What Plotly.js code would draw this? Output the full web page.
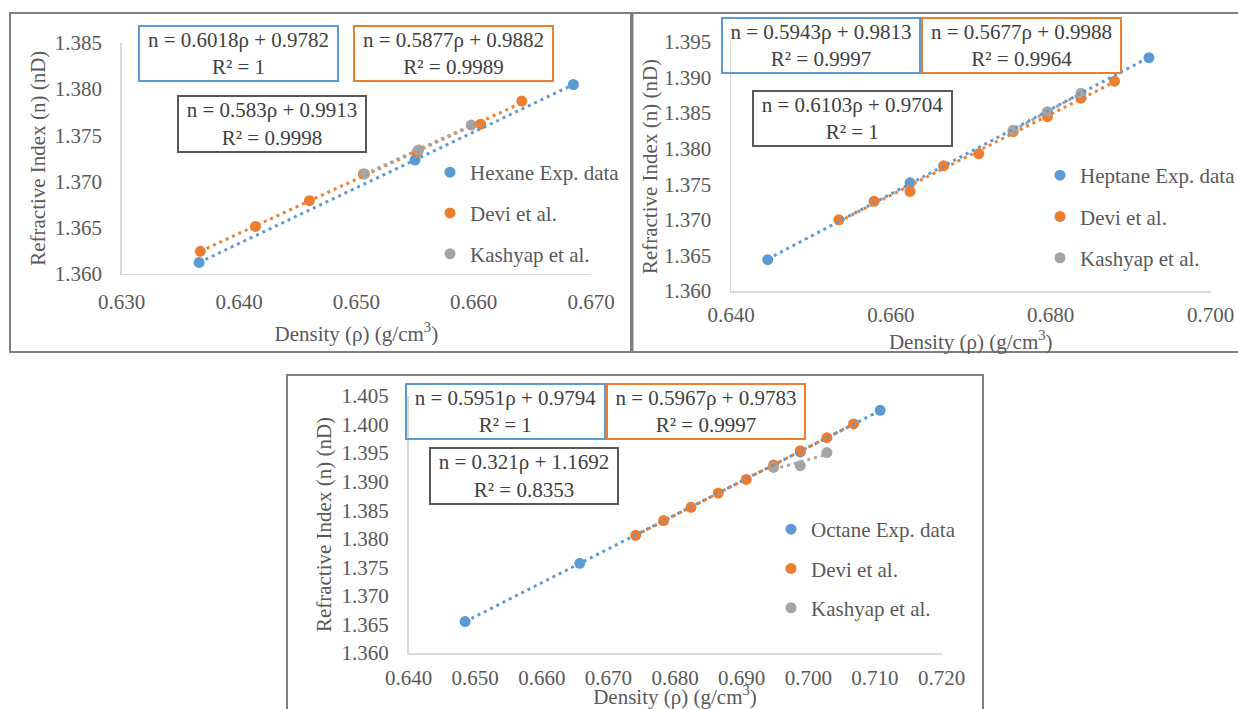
<!DOCTYPE html>
<html>
<head>
<meta charset="utf-8">
<script src="https://cdn.plot.ly/plotly-3.0.1.min.js"></script>
<style>
html,body{margin:0;padding:0;background:#fff;overflow:hidden;width:1238px;height:709px;}
#chart{width:1238px;height:709px;overflow:hidden;}
</style>
</head>
<body>
<div id="chart"></div>
<script>
// ---------- Hexane panel ----------
const hexExpX   = [0.6366, 0.6550, 0.6685];
const hexExpY   = [1.3612, 1.3723, 1.3805];
const hexDeviX  = [0.6367, 0.6414, 0.6460, 0.6506, 0.6552, 0.6606, 0.6641];
const hexDeviY  = [1.3624, 1.3651, 1.3679, 1.3708, 1.3732, 1.3762, 1.3787];
const hexKashX  = [0.6507, 0.6553, 0.6598];
const hexKashY  = [1.3708, 1.3734, 1.3761];
const hexNames  = ["Hexane Exp. data", "Devi et al.", "Kashyap et al."];
const hexEq     = ["n = 0.6018ρ + 0.9782<br>R² = 1", "n = 0.5877ρ + 0.9882<br>R² = 0.9989", "n = 0.583ρ + 0.9913<br>R² = 0.9998"];

// ---------- Heptane panel ----------
const hepExpX   = [0.6446, 0.6624, 0.6923];
const hepExpY   = [1.3644, 1.3752, 1.3928];
const hepDeviX  = [0.6535, 0.6579, 0.6624, 0.6666, 0.6710, 0.6753, 0.6796, 0.6838, 0.6880];
const hepDeviY  = [1.3700, 1.3726, 1.3740, 1.3776, 1.3793, 1.3824, 1.3845, 1.3871, 1.3895];
const hepKashX  = [0.6753, 0.6796, 0.6838];
const hepKashY  = [1.3826, 1.3852, 1.3878];
const hepNames  = ["Heptane Exp. data", "Devi et al.", "Kashyap et al."];
const hepEq     = ["n = 0.5943ρ + 0.9813<br>R² = 0.9997", "n = 0.5677ρ + 0.9988<br>R² = 0.9964", "n = 0.6103ρ + 0.9704<br>R² = 1"];

// ---------- Octane panel ----------
const octExpX   = [0.6485, 0.6657, 0.6988, 0.7108];
const octExpY   = [1.3655, 1.3757, 1.3952, 1.4025];
const octDeviX  = [0.6741, 0.6783, 0.6824, 0.6865, 0.6907, 0.6948, 0.6988, 0.7028, 0.7068];
const octDeviY  = [1.3806, 1.3832, 1.3855, 1.3880, 1.3904, 1.3929, 1.3954, 1.3977, 1.4001];
const octKashX  = [0.6948, 0.6988, 0.7028];
const octKashY  = [1.3925, 1.3928, 1.3951];
const octNames  = ["Octane Exp. data", "Devi et al.", "Kashyap et al."];
const octEq     = ["n = 0.5951ρ + 0.9794<br>R² = 1", "n = 0.5967ρ + 0.9783<br>R² = 0.9997", "n = 0.321ρ + 1.1692<br>R² = 0.8353"];

// axis ranges / ticks
const hexXRange = [0.630, 0.670], hexYRange = [1.360, 1.385], hexXTick = 0.010;
const hepXRange = [0.640, 0.700], hepYRange = [1.360, 1.395], hepXTick = 0.020;
const octXRange = [0.640, 0.720], octYRange = [1.360, 1.405], octXTick = 0.010;
const yTick = 0.005;

const xTitle = "Density (ρ) (g/cm<sup>3</sup>)";
const yTitle = "Refractive Index (n) (nD)";

// ---------- styling ----------
const W = 1238, H = 709;
const colors = ["#5B9BD5", "#ED7D31", "#A5A5A5"];
const boxColors = ["#5B9BD5", "#ED7D31", "#595959"];
const FONT = "Liberation Serif, Times New Roman, serif";
const textCol = "#595959";
const FS = 21;

function fit(xs, ys) {
  const n = xs.length;
  const mx = xs.reduce((a, b) => a + b, 0) / n;
  const my = ys.reduce((a, b) => a + b, 0) / n;
  let sxy = 0, sxx = 0;
  for (let i = 0; i < n; i++) { sxy += (xs[i] - mx) * (ys[i] - my); sxx += (xs[i] - mx) ** 2; }
  const b = sxy / sxx;
  return { b: b, a: my - b * mx };
}

const traces = [];
function addPanel(series, names, xa, ya, legendId, grpPrefix) {
  series.forEach((s, i) => {
    traces.push({
      x: s[0], y: s[1], type: "scatter", mode: "markers", name: names[i],
      xaxis: xa, yaxis: ya, legend: legendId, legendgroup: grpPrefix + i,
      marker: { color: colors[i], size: 11, line: { width: 0 } },
      hoverinfo: "x+y"
    });
  });
  series.forEach((s, i) => {
    const f = fit(s[0], s[1]);
    const x0 = Math.min(...s[0]), x1 = Math.max(...s[0]);
    traces.push({
      x: [x0, x1], y: [f.a + f.b * x0, f.a + f.b * x1], type: "scatter", mode: "lines",
      xaxis: xa, yaxis: ya, showlegend: false, legendgroup: grpPrefix + i, hoverinfo: "skip",
      line: { color: colors[i], width: 3, dash: "3px,4px" }
    });
  });
}
addPanel([[hexExpX, hexExpY], [hexDeviX, hexDeviY], [hexKashX, hexKashY]], hexNames, "x", "y", "legend", "h");
addPanel([[hepExpX, hepExpY], [hepDeviX, hepDeviY], [hepKashX, hepKashY]], hepNames, "x2", "y2", "legend2", "p");
addPanel([[octExpX, octExpY], [octDeviX, octDeviY], [octKashX, octKashY]], octNames, "x3", "y3", "legend3", "o");

const px = v => v / W;
const py = v => 1 - v / H;

function xAxis(range, dtick, dom, anchor, lblOff, titleOff) {
  return {
    domain: dom, range: range, anchor: anchor, dtick: dtick, tick0: range[0], tickformat: ".3f",
    showgrid: false, zeroline: false, showline: true, linecolor: "#D9D9D9", linewidth: 1.5,
    ticks: "", ticklabelstandoff: lblOff,
    tickfont: { family: FONT, size: FS, color: textCol },
    title: { text: xTitle, standoff: titleOff, font: { family: FONT, size: FS, color: textCol } },
    automargin: false, fixedrange: true
  };
}
function yAxis(range, dom, anchor, lblOff, titleOff) {
  return {
    domain: dom, range: range, anchor: anchor, dtick: yTick, tick0: range[0], tickformat: ".3f",
    showgrid: false, zeroline: false, showline: true, linecolor: "#D9D9D9", linewidth: 1.5,
    ticks: "", ticklabelstandoff: lblOff,
    tickfont: { family: FONT, size: FS, color: textCol },
    title: { text: yTitle, standoff: titleOff, font: { family: FONT, size: FS, color: textCol } },
    automargin: false, fixedrange: true
  };
}

function legendAt(xpx, ypx, gap) {
  return {
    x: px(xpx), y: py(ypx), xanchor: "left", yanchor: "top", xref: "paper", yref: "paper",
    bgcolor: "rgba(0,0,0,0)", borderwidth: 0, tracegroupgap: gap, itemclick: false, itemdoubleclick: false,
    font: { family: FONT, size: FS, color: textCol }
  };
}

function box(text, left, top, w, h, i) {
  return {
    xref: "paper", yref: "paper", x: px(left), y: py(top), xanchor: "left", yanchor: "top",
    text: text, showarrow: false, align: "center", valign: "middle",
    width: w - 4, height: h - 4, borderpad: 0, borderwidth: 2, bordercolor: boxColors[i],
    bgcolor: "rgba(255,255,255,0)",
    font: { family: FONT, size: FS, color: "#404040" }
  };
}

function frame(x0, y0, x1, y1) {
  return { type: "rect", xref: "paper", yref: "paper", x0: px(x0), x1: px(x1), y0: py(y1), y1: py(y0),
           line: { color: "#7F7F7F", width: 2 }, fillcolor: "rgba(0,0,0,0)", layer: "below" };
}

const layout = {
  width: W, height: H, margin: { l: 0, r: 0, t: 0, b: 0, autoexpand: false },
  paper_bgcolor: "#fff", plot_bgcolor: "rgba(0,0,0,0)",
  font: { family: FONT, color: textCol },
  xaxis:  xAxis(hexXRange, hexXTick, [px(121.7), px(591)], "y", 9, 13),
  yaxis:  yAxis(hexYRange, [py(273.5), py(43)], "x", 14, 3),
  xaxis2: xAxis(hepXRange, hepXTick, [px(731), px(1210.5)], "y2", 4, 0),
  yaxis2: yAxis(hepYRange, [py(291), py(42)], "x2", 14, 0),
  xaxis3: xAxis(octXRange, octXTick, [px(408.5), px(941.5)], "y3", 5, 3),
  yaxis3: yAxis(octYRange, [py(653), py(396)], "x3", 14, 4),
  legend:  legendAt(430, 152, 10.5),
  legend2: legendAt(1040, 155, 11),
  legend3: legendAt(771, 509, 9),
  showlegend: true,
  shapes: [
    frame(10, 13, 631, 352),
    frame(632.5, 13, 1245, 352),
    frame(287, 375, 983, 715)
  ],
  annotations: [
    box(hexEq[0], 137.5, 25, 201, 57, 0),
    box(hexEq[1], 353, 25, 201, 57, 1),
    box(hexEq[2], 177, 95, 190, 58, 2),
    box(hepEq[0], 721, 17, 200, 57, 0),
    box(hepEq[1], 921, 17, 201, 57, 1),
    box(hepEq[2], 752, 90, 201, 57, 2),
    box(octEq[0], 405, 383, 201, 57, 0),
    box(octEq[1], 606, 383, 200, 57, 1),
    box(octEq[2], 429, 447, 190, 58, 2)
  ]
};

Plotly.newPlot("chart", traces, layout, { staticPlot: true, displayModeBar: false });
</script>
</body>
</html>
